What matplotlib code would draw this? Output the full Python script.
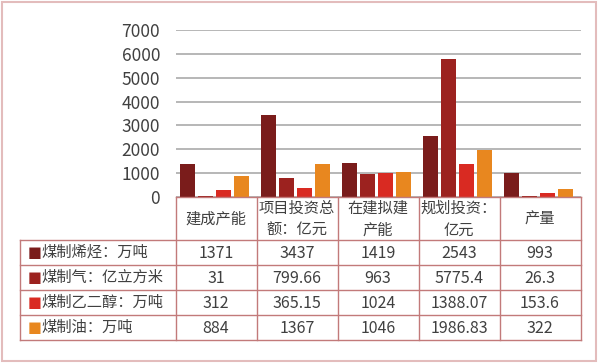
import matplotlib
matplotlib.use("Agg")
import matplotlib.pyplot as plt
from matplotlib.lines import Line2D
from matplotlib.patches import Rectangle
import numpy as np

plt.rcParams['font.family'] = ['Noto Sans CJK SC', 'DejaVu Sans']

categories = ["建成产能", "项目投资总\n额：亿元", "在建拟建\n产能", "规划投资：\n亿元", "产量"]
series_names = ["煤制烯烃：万吨", "煤制气：亿立方米", "煤制乙二醇：万吨", "煤制油：万吨"]
olefin = [1371, 3437, 1419, 2543, 993]
gas = [31, 799.66, 963, 5775.4, 26.3]
glycol = [312, 365.15, 1024, 1388.07, 153.6]
oil = [884, 1367, 1046, 1986.83, 322]
series_values = [olefin, gas, glycol, oil]
yticks = [0, 1000, 2000, 3000, 4000, 5000, 6000, 7000]

colors = ["#7a1c1b", "#9c221f", "#d92a22", "#e8871f"]
line_c = "#c27a7a"
text_c = "#404040"

W, H = 600, 363
fig = plt.figure(figsize=(W / 100, H / 100), dpi=100)

def fx(x):
    return x / W

def fy(y):
    return 1 - y / H

# outer frame
fig.add_artist(Rectangle((fx(1.5), fy(360.5)), fx(596) - fx(1.5), fy(1.5) - fy(360.5),
                         transform=fig.transFigure, fill=False, edgecolor="#e3bcbc", lw=1.5))

L, R = 175.5, 580.5
top_px, bot_px = 30, 197
ax = fig.add_axes([fx(L), fy(bot_px), fx(R) - fx(L), fy(top_px) - fy(bot_px)])
ax.set_xlim(-0.5, len(categories) - 0.5)
ax.set_ylim(0, 7000)
ax.set_yticks(yticks)
ax.set_yticklabels([str(t) for t in yticks], fontsize=12.5, color=text_c)
ax.tick_params(axis='y', length=0, pad=11)
ax.set_xticks([])
for s in ax.spines.values():
    s.set_visible(False)
ax.grid(axis='y', color="#a3a3a3", lw=1.1)
ax.set_axisbelow(True)

x = np.arange(len(categories))
step = 0.223
bw = 0.186
for i, (vals, c) in enumerate(zip(series_values, colors)):
    ax.bar(x + (i - 1.5) * step - 0.02, vals, width=bw, color=c, zorder=3)

# table
col_edges = np.linspace(L, R, len(categories) + 1)
tab_left = 20
head_top, head_bot = 197, 240
row_h = 25
nrows = len(series_names)
row_edges = [head_bot + k * row_h for k in range(nrows + 1)]

def hline(x0, x1, y):
    fig.add_artist(Line2D([fx(x0), fx(x1)], [fy(y), fy(y)], transform=fig.transFigure, color=line_c, lw=1))

def vline(x, y0, y1):
    fig.add_artist(Line2D([fx(x), fx(x)], [fy(y0), fy(y1)], transform=fig.transFigure, color=line_c, lw=1))

hline(col_edges[0], col_edges[-1], head_top)
for y in row_edges:
    hline(tab_left, col_edges[-1], y)
for xe in col_edges:
    vline(xe, head_top, row_edges[-1])
vline(tab_left, head_bot, row_edges[-1])

for j, cat in enumerate(categories):
    cx = (col_edges[j] + col_edges[j + 1]) / 2
    fig.text(fx(cx), fy((head_top + head_bot) / 2 + 1), cat, ha='center', va='center',
             fontsize=11, color=text_c, linespacing=1.4)

for i, name in enumerate(series_names):
    cy = (row_edges[i] + row_edges[i + 1]) / 2
    fig.text(fx(tab_left + 8), fy(cy), "■", ha='left', va='center', fontsize=10.5,
             color=colors[i], family=['DejaVu Sans'])
    fig.text(fx(tab_left + 21), fy(cy), name, ha='left', va='center', fontsize=11, color=text_c)
    for j, v in enumerate(series_values[i]):
        cx = (col_edges[j] + col_edges[j + 1]) / 2
        fig.text(fx(cx), fy(cy + 1), "{:g}".format(v), ha='center', va='center',
                 fontsize=11.5, color=text_c)

fig.savefig("out.png", dpi=100)
